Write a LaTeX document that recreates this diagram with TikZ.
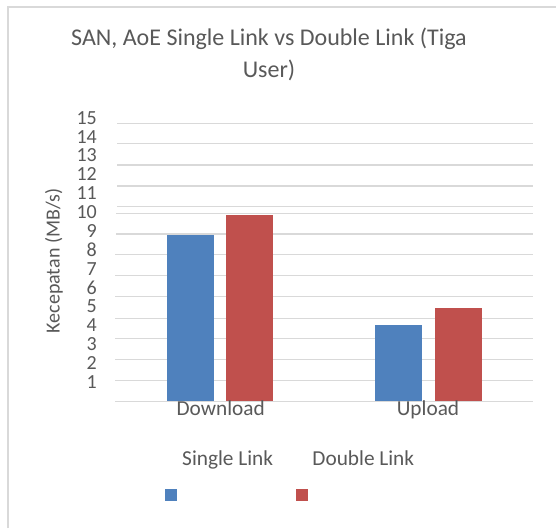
\documentclass[tikz,border=0pt]{standalone}
\usepackage{fontspec}
\setmainfont{Carlito}
\definecolor{txt}{HTML}{595959}
\definecolor{grid}{HTML}{D9D9D9}
\definecolor{sblue}{HTML}{4F81BD}
\definecolor{sred}{HTML}{C0504D}
\tikzset{
  gridline/.style={draw=grid, line width=1.4pt},
  bar/.style={draw=none},
  ticklbl/.style={text=txt, font=\fontsize{20}{20}\selectfont, anchor=east, inner sep=0pt},
  catlbl/.style={text=txt, font=\fontsize{21.3}{21.3}\selectfont, anchor=base, inner sep=0pt},
  titlelbl/.style={text=txt, font=\fontsize{24}{24}\selectfont, anchor=base, inner sep=0pt},
}
\begin{document}
\begin{tikzpicture}[x=1pt,y=-1pt]
\useasboundingbox (0,0) rectangle (556,528);
\fill[white] (0,0) rectangle (556,528);
% frame
\draw[grid, line width=1.6pt] (8,528) -- (8,7) -- (556,7);
% title
\node[titlelbl] (t1) at (269,45) {SAN, AoE Single Link vs Double Link (Tiga};
\node[titlelbl] (t2) at (269,77) {User)};
% gridlines
\foreach \y/\xs in {123.3/117,143.7/117,165/117,186/117,206.7/117,213.5/116,234/116,254.7/115,275.7/115,296.7/115,318.7/115,338.7/115,359.7/115,380.7/115,401.7/115}{
  \draw[gridline] (\xs,\y) -- (533,\y);
}
% tick labels
\foreach \k in {1,...,15}{
  \node[ticklbl] (tk\k) at (97,{381.7-(\k-1)*18.85}) {\k};
}
% axis title
\node[text=txt, font=\fontsize{20}{20}\selectfont, rotate=90, inner sep=0pt] (yl) at (54,261) {Kecepatan (MB/s)};
% bars
\fill[sblue] (166.7,235) rectangle (214,401);
\fill[sred] (226,215) rectangle (273,401);
\fill[sblue] (375,325) rectangle (422,401);
\fill[sred] (435,308) rectangle (482,401);
% category labels
\node[catlbl] (c1) at (220.7,415.7) {Download};
\node[catlbl] (c2) at (428,415.7) {Upload};
% legend
\node[catlbl] (l1) at (227.7,465.7) {Single Link};
\node[catlbl] (l2) at (363.3,465.7) {Double Link};
\fill[sblue] (165.3,489) rectangle (176.7,500.7);
\fill[sred] (296,489) rectangle (307.7,500.7);
\end{tikzpicture}
\end{document}
